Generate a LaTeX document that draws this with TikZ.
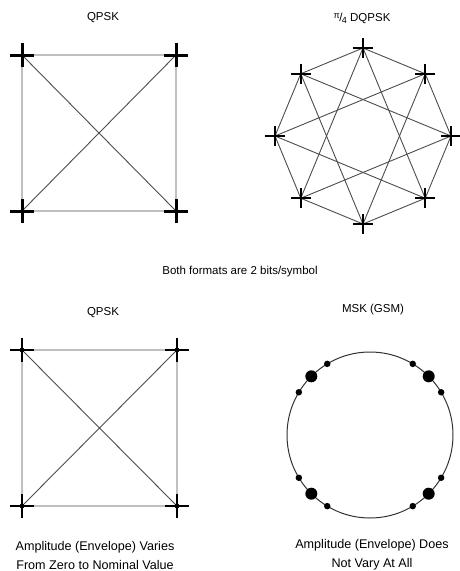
\documentclass[tikz,border=0pt]{standalone}
\usepackage{fontspec}
\setmainfont{Liberation Sans}
\usetikzlibrary{calc}
\begin{document}
\begin{tikzpicture}[x=1pt,y=-1pt,
  conn/.style={draw=black!70,line width=0.9pt},
  ttl/.style={font=\fontsize{11.5}{13}\selectfont,inner sep=0pt},
  captext/.style={font=\fontsize{12.6}{19}\selectfont,align=center,inner sep=0pt},
  bigdot/.style={circle,fill=black,inner sep=0pt,minimum size=12pt},
  smalldot/.style={circle,fill=black,inner sep=0pt,minimum size=6.5pt},
  pics/plusmark/.style args={#1/#2}{code={\draw[line width=#1,line cap=butt] (-#2,0)--(#2,0) (0,-#2)--(0,#2);}}
]
\useasboundingbox (0,0) rectangle (459,571);
% ---------- titles ----------
\node[ttl] (t1) at (103,18) {QPSK};
\node[ttl] (t2) at (362,18) {\raisebox{3pt}{\fontsize{9}{9}\selectfont π}\kern-0.5pt/\kern-0.5pt\raisebox{-2pt}{\fontsize{9}{9}\selectfont 4} DQPSK};
\node[ttl] (mid) at (240,272) {Both formats are 2 bits/symbol};
\node[ttl] (t3) at (103,313) {QPSK};
\node[ttl] (t4) at (373,310) {MSK (GSM)};
\node[captext] (c1) at (95,555) {Amplitude (Envelope) Varies\\From Zero to Nominal Value};
\node[captext] (c2) at (372,555) {Amplitude (Envelope) Does\\Not Vary At All};
% ---------- top QPSK ----------
\coordinate (a1) at (22,55);
\coordinate (a2) at (176,55);
\coordinate (a3) at (176,211);
\coordinate (a4) at (22,211);
\draw[conn] (a1)--(a2)--(a3)--(a4)--cycle (a1)--(a3) (a2)--(a4);
\foreach \p in {a1,a2,a3,a4} \pic at (\p) {plusmark={3pt/12}};
% ---------- pi/4 DQPSK ----------
\coordinate (oc) at (363,136);
\foreach \i in {0,...,7} \coordinate (o\i) at ($(oc)+(\i*45:88)$);
\foreach \i in {0,...,7}{
  \pgfmathtruncatemacro\j{mod(\i+1,8)}
  \pgfmathtruncatemacro\k{mod(\i+3,8)}
  \draw[conn] (o\i)--(o\j) (o\i)--(o\k);
}
\foreach \i in {0,...,7} \pic at (o\i) {plusmark={2.5pt/10}};
% ---------- bottom QPSK ----------
\coordinate (b1) at (22,350);
\coordinate (b2) at (177,350);
\coordinate (b3) at (177,506);
\coordinate (b4) at (22,506);
\draw[conn] (b1)--(b2)--(b3)--(b4)--cycle (b1)--(b3) (b2)--(b4);
\foreach \p in {b1,b2,b3,b4}{
  \pic at (\p) {plusmark={1.5pt/12}};
  \fill (\p) circle (2.4pt);
}
% ---------- MSK ----------
\coordinate (mc) at (370,435);
\draw[draw=black!80,line width=1pt] (mc) circle (83);
\foreach \a in {45,135,225,315}{
  \node[bigdot] at ($(mc)+(\a:83)$) {};
  \node[smalldot] at ($(mc)+(\a+14:83)$) {};
  \node[smalldot] at ($(mc)+(\a-14:83)$) {};
}
\end{tikzpicture}
\end{document}
